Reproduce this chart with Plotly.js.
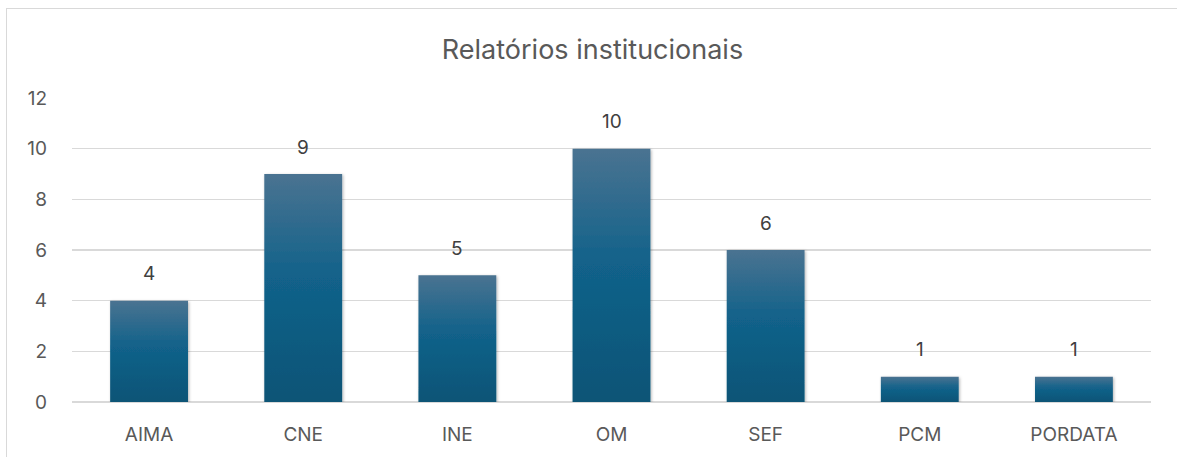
<!DOCTYPE html>
<html>
<head>
<meta charset="utf-8">
<script src="https://cdn.plot.ly/plotly-3.0.1.min.js"></script>
<style>
html,body{margin:0;padding:0;background:#fff;overflow:hidden;}
#chart{position:absolute;left:6px;top:8px;width:1171px;height:449px;border-left:1px solid #d9d9d9;border-top:1px solid #d9d9d9;}
</style>
</head>
<body>
<div id="chart"></div>
<script>
const categories = ["AIMA", "CNE", "INE", "OM", "SEF", "PCM", "PORDATA"];
const values = [4, 9, 5, 10, 6, 1, 1];
const yTicks = [0, 2, 4, 6, 8, 10, 12];
const chartTitle = "Relatórios institucionais";

const fontFam = "Inter, 'Open Sans', 'Liberation Sans', sans-serif";

const trace = {
  type: "bar",
  x: categories,
  y: values,
  marker: {color: "#175f82", line: {width: 0}},
  width: 0.505,
  hoverinfo: "none"
};

const labelAnnotations = categories.map(function(c, i){
  return {
    x: c, y: values[i], xref: "x", yref: "y",
    text: String(values[i]), showarrow: false,
    xanchor: "center", yanchor: "middle", yshift: 27,
    font: {family: fontFam, size: 19, color: "#404040"}
  };
});

const layout = {
  width: 1171,
  height: 449,
  margin: {l: 65, r: 27, t: 89, b: 56, pad: 0},
  paper_bgcolor: "#ffffff",
  plot_bgcolor: "#ffffff",
  showlegend: false,
  title: {
    text: chartTitle,
    font: {family: fontFam, size: 27, color: "#595959"},
    x: 0.5, xref: "container", xanchor: "center",
    y: 1 - 41 / 449, yref: "container", yanchor: "middle"
  },
  xaxis: {
    type: "category",
    tickfont: {family: fontFam, size: 19, color: "#595959"},
    showgrid: false, zeroline: false, showline: false,
    ticks: "", ticklen: 0, tickangle: 0, ticklabelstandoff: 19,
    automargin: false
  },
  yaxis: {
    range: [0, 12],
    tickvals: yTicks,
    ticktext: yTicks.map(String),
    tickfont: {family: fontFam, size: 19, color: "#595959"},
    showgrid: true, gridcolor: "#d9d9d9", gridwidth: 1.3,
    zeroline: true, zerolinecolor: "#d9d9d9", zerolinewidth: 1.3,
    showline: false, ticks: "", ticklabelstandoff: 24,
    automargin: false
  },
  annotations: labelAnnotations,
  bargap: 0.495
};

Plotly.newPlot("chart", [trace], layout, {staticPlot: true, displayModeBar: false}).then(function(gd){
  const svg = gd.querySelector("svg.main-svg");
  let defs = svg.querySelector("defs");
  const ns = "http://www.w3.org/2000/svg";
  if (!defs) { defs = document.createElementNS(ns, "defs"); svg.insertBefore(defs, svg.firstChild); }
  const grad = document.createElementNS(ns, "linearGradient");
  grad.setAttribute("id", "barGrad");
  grad.setAttribute("x1", "0"); grad.setAttribute("y1", "0");
  grad.setAttribute("x2", "0"); grad.setAttribute("y2", "1");
  [["0%", "#4a7391"], ["45%", "#12628a"], ["100%", "#0a5476"]].forEach(function(s){
    const st = document.createElementNS(ns, "stop");
    st.setAttribute("offset", s[0]); st.setAttribute("stop-color", s[1]);
    grad.appendChild(st);
  });
  defs.appendChild(grad);
  const filt = document.createElementNS(ns, "filter");
  filt.setAttribute("id", "barShadow");
  filt.setAttribute("x", "-20%"); filt.setAttribute("y", "-20%");
  filt.setAttribute("width", "140%"); filt.setAttribute("height", "140%");
  const ds = document.createElementNS(ns, "feDropShadow");
  ds.setAttribute("dx", "1"); ds.setAttribute("dy", "1");
  ds.setAttribute("stdDeviation", "1.5");
  ds.setAttribute("flood-color", "#000"); ds.setAttribute("flood-opacity", "0.3");
  filt.appendChild(ds);
  defs.appendChild(filt);
  gd.querySelectorAll(".bars .point path").forEach(function(p){
    p.style.fill = "url(#barGrad)";
    p.setAttribute("filter", "url(#barShadow)");
  });
});
</script>
</body>
</html>
